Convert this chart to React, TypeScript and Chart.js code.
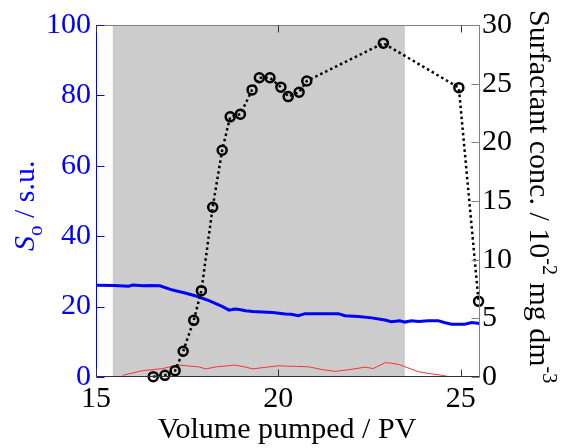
import React, { useEffect, useRef } from "react";
import { Chart, registerables } from "chart.js";

Chart.register(...registerables);

// ---- data ----
const surfX = [16.57, 16.89, 17.17, 17.39, 17.68, 17.89, 18.2, 18.46, 18.68, 18.96, 19.28, 19.48, 19.77, 20.07, 20.27, 20.57, 20.78, 22.88, 24.95, 25.49];
const surfY = [0.03, 0.14, 0.54, 2.19, 4.83, 7.36, 14.47, 19.33, 22.17, 22.4, 24.47, 25.5, 25.5, 24.7, 23.9, 24.27, 25.23, 28.45, 24.66, 6.45];

const soX = [15.0, 15.5, 15.9, 16.0, 16.3, 16.5, 16.75, 17.1, 17.47, 17.74, 18.1, 18.47, 18.65, 18.8, 18.93, 19.1, 19.3, 19.84, 20.19, 20.35, 20.55, 20.73, 21.2, 21.64, 21.83, 22.2, 22.56, 22.92, 23.1, 23.33, 23.47, 23.65, 23.85, 24.11, 24.38, 24.55, 24.75, 25.11, 25.3, 25.53];
const soY = [26.1, 26.0, 25.8, 26.1, 25.9, 26.0, 25.9, 24.7, 23.8, 23.0, 21.7, 20.0, 19.0, 19.3, 19.2, 18.8, 18.6, 18.3, 17.9, 17.8, 17.4, 18.0, 18.0, 18.0, 17.4, 17.2, 16.8, 16.2, 15.7, 16.0, 15.6, 16.0, 15.8, 16.0, 16.0, 15.5, 15.0, 15.0, 15.5, 15.2];

const redX = [15.0, 15.7, 15.78, 16.28, 16.83, 17.24, 17.56, 17.8, 18.02, 18.3, 18.65, 18.8, 19.11, 19.3, 19.6, 20.02, 20.19, 20.5, 20.83, 21.2, 21.56, 22.02, 22.38, 22.6, 22.94, 23.1, 23.33, 23.47, 23.84, 24.11, 24.48, 24.71, 25.53];
const redY = [0, 0, 0.6, 1.8, 2.4, 3.4, 3.1, 2.9, 2.3, 2.9, 3.2, 3.4, 2.8, 2.3, 2.7, 3.2, 3.1, 3.0, 2.9, 2.1, 1.6, 2.2, 2.8, 2.4, 4.1, 3.9, 3.5, 2.9, 1.5, 1.0, 0.5, 0, 0];

const xTicks = [15, 20, 25];
const leftTicks = [0, 20, 40, 60, 80, 100];
const rightTicks = [0, 5, 10, 15, 20, 25, 30];
const xRange = [15, 25.53];
const shadeRange = [15.46, 23.47];

const FONT = "'Liberation Serif', 'Times New Roman', serif";
const BLUE = "#0000ff";

const zip = (xs: number[], ys: number[]) => xs.map((x, i) => ({ x, y: ys[i] }));

const decor = {
  id: "decor",
  beforeDatasetsDraw(chart: any) {
    const { ctx, chartArea, scales } = chart;
    const x0 = scales.x.getPixelForValue(shadeRange[0]);
    const x1 = scales.x.getPixelForValue(shadeRange[1]);
    ctx.save();
    ctx.fillStyle = "#cccccc";
    ctx.fillRect(x0, chartArea.top, x1 - x0, chartArea.bottom - chartArea.top);
    ctx.restore();
  },
  afterDraw(chart: any) {
    const { ctx, chartArea, scales } = chart;
    const { left, right, top, bottom } = chartArea;
    const L = Math.round(left) + 0.5;
    const R = Math.round(right) - 0.5;
    const T = Math.round(top) + 0.5;
    const B = Math.round(bottom) - 0.5;
    ctx.save();
    ctx.lineWidth = 1;
    const line = (c: string, a: number, b: number, cc: number, d: number) => {
      ctx.strokeStyle = c;
      ctx.beginPath();
      ctx.moveTo(a, b);
      ctx.lineTo(cc, d);
      ctx.stroke();
    };
    // frame
    line("#808080", L, T, R, T);
    line("#808080", R, T, R, B);
    line("#333333", L, B, R, B);
    line(BLUE, L, T, L, B);
    // x ticks (inward, top and bottom)
    xTicks.forEach((v) => {
      const px = Math.round(scales.x.getPixelForValue(v)) + 0.5;
      line("#333333", px, B, px, B - 7);
      line("#333333", px, T, px, T + 7);
    });
    // left ticks
    leftTicks.forEach((v) => {
      const py = Math.round(scales.yL.getPixelForValue(v)) + 0.5;
      line(BLUE, L, py, L + 8, py);
    });
    // right ticks
    rightTicks.forEach((v) => {
      const py = Math.round(scales.yR.getPixelForValue(v)) + 0.5;
      line("#808080", R, py, R - 8, py);
    });

    // x title
    ctx.fillStyle = "#000000";
    ctx.font = `30px ${FONT}`;
    ctx.textAlign = "center";
    ctx.textBaseline = "alphabetic";
    ctx.fillText("Volume pumped / PV", (left + right) / 2 - 1, 438);

    // left title
    ctx.save();
    ctx.translate(33.5, 251);
    ctx.rotate(-Math.PI / 2);
    ctx.textAlign = "left";
    ctx.fillStyle = BLUE;
    ctx.font = `italic 30px ${FONT}`;
    ctx.fillText("S", 0, 0);
    let w = ctx.measureText("S").width;
    ctx.font = `21px ${FONT}`;
    ctx.fillText("o", w, 8);
    w += ctx.measureText("o").width;
    ctx.font = `30px ${FONT}`;
    ctx.fillText(" / s.u.", w, 0);
    ctx.restore();

    // right title
    ctx.save();
    ctx.translate(530, 10);
    ctx.rotate(Math.PI / 2);
    ctx.textAlign = "left";
    ctx.fillStyle = "#000000";
    const parts: [string, boolean][] = [
      ["Surfactant conc. / 10", false],
      ["-2", true],
      [" mg dm", false],
      ["-3", true],
    ];
    let pos = 0;
    parts.forEach(([t, sup]) => {
      ctx.font = sup ? `20px ${FONT}` : `30px ${FONT}`;
      ctx.fillText(t, pos, sup ? -13 : 0);
      pos += ctx.measureText(t).width;
    });
    ctx.restore();

    ctx.restore();
  },
};

export default function App() {
  const ref = useRef<HTMLCanvasElement | null>(null);
  useEffect(() => {
    if (!ref.current) return;
    const chart = new Chart(ref.current, {
      type: "line",
      data: {
        datasets: [
          {
            label: "Surfactant",
            data: zip(surfX, surfY),
            yAxisID: "yR",
            borderColor: "#000000",
            borderWidth: 2.5,
            borderDash: [2.5, 3],
            pointRadius: 4.5,
            pointBorderWidth: 2.5,
            pointBorderColor: "#000000",
            pointBackgroundColor: "rgba(0,0,0,0)",
            fill: false,
            tension: 0,
            clip: false as any,
            order: 0,
          },
          {
            label: "So",
            data: zip(soX, soY),
            yAxisID: "yL",
            borderColor: BLUE,
            borderWidth: 3,
            pointRadius: 0,
            fill: false,
            tension: 0,
            order: 1,
          },
          {
            label: "red",
            data: zip(redX, redY),
            yAxisID: "yL",
            borderColor: "#ff3030",
            borderWidth: 1,
            pointRadius: 0,
            fill: false,
            tension: 0,
            order: 2,
          },
        ],
      },
      options: {
        animation: false,
        responsive: false,
        devicePixelRatio: 1,
        layout: { padding: { top: 25, left: 0, right: 0, bottom: 0 } },
        plugins: { legend: { display: false }, tooltip: { enabled: false } },
        scales: {
          x: {
            type: "linear",
            position: "bottom",
            min: xRange[0],
            max: xRange[1],
            grid: { display: false, drawTicks: false },
            border: { display: false },
            ticks: { color: "#000000", font: { family: FONT, size: 30 }, padding: 4, maxRotation: 0 },
            afterBuildTicks: (s: any) => {
              s.ticks = xTicks.map((v) => ({ value: v }));
            },
            afterFit: (s: any) => {
              s.height = 71;
            },
          },
          yL: {
            type: "linear",
            position: "left",
            min: 0,
            max: 100,
            grid: { display: false, drawTicks: false },
            border: { display: false },
            ticks: { color: BLUE, font: { family: FONT, size: 30 }, padding: 5 },
            afterBuildTicks: (s: any) => {
              s.ticks = leftTicks.map((v) => ({ value: v }));
            },
            afterFit: (s: any) => {
              s.width = 96;
            },
          },
          yR: {
            type: "linear",
            position: "right",
            min: 0,
            max: 30,
            grid: { display: false, drawTicks: false },
            border: { display: false },
            ticks: { color: "#000000", font: { family: FONT, size: 30 }, padding: 2 },
            afterBuildTicks: (s: any) => {
              s.ticks = rightTicks.map((v) => ({ value: v }));
            },
            afterFit: (s: any) => {
              s.width = 85;
            },
          },
        },
      },
      plugins: [decor],
    } as any);
    return () => chart.destroy();
  }, []);
  return (
    <div style={{ position: "absolute", left: 0, top: 0, width: 565, height: 448, background: "#ffffff" }}>
      <canvas ref={ref} width={565} height={448} style={{ display: "block" }} />
    </div>
  );
}
